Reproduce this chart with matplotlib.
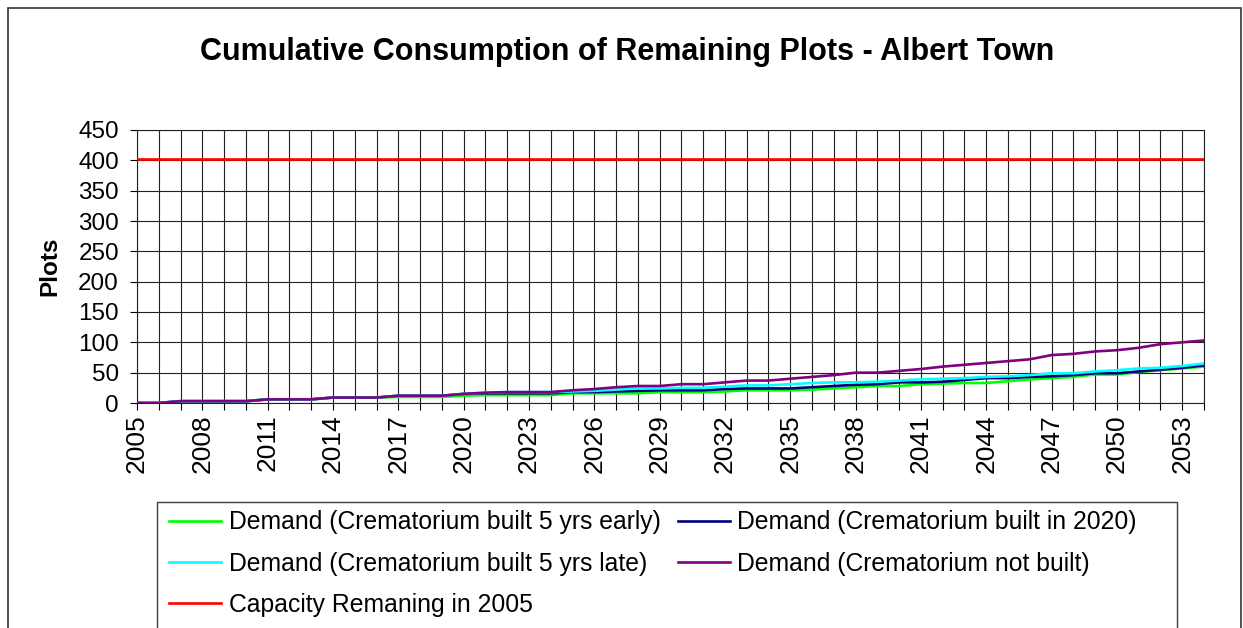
import matplotlib
matplotlib.use("Agg")
import matplotlib.pyplot as plt
from matplotlib.patches import Rectangle

# cumulative plots used per year
years = list(range(2005, 2055))

built_early = [0, 0, 3, 3, 3, 3, 6, 6, 6, 9,
               9, 9, 10, 10, 10, 12, 13, 13, 13, 13,
               16, 16, 16, 16, 18, 18, 18, 19, 21, 21,
               21, 22, 24, 26, 28, 28, 31, 32, 33, 33,
               36, 39, 41, 43, 47, 47, 51, 54, 57, 60]

built_2020 = [0, 0, 3, 3, 3, 3, 6, 6, 6, 9,
              9, 9, 12, 12, 12, 15, 16, 16, 16, 16,
              18, 18, 19, 20, 21, 21, 21, 23, 24, 24,
              24, 26, 28, 30, 31, 34, 34, 35, 38, 41,
              41, 43, 44, 46, 49, 49, 52, 55, 58, 62]

built_late = [0, 0, 3, 3, 3, 3, 6, 6, 6, 9,
              9, 9, 12, 12, 12, 15, 17, 18, 18, 18,
              19, 20, 22, 24, 24, 25, 25, 27, 29, 29,
              31, 33, 34, 34, 35, 37, 39, 40, 41, 43,
              44, 46, 49, 49, 52, 54, 57, 58, 61, 65]

not_built = [0, 0, 3, 3, 3, 3, 6, 6, 6, 9,
             9, 9, 12, 12, 12, 15, 17, 18, 18, 18,
             21, 23, 26, 28, 28, 31, 31, 34, 37, 37,
             40, 43, 46, 50, 50, 53, 56, 60, 63, 66,
             69, 72, 79, 81, 85, 87, 91, 97, 100, 103]

capacity_2005 = 403

labels = ["Demand (Crematorium built 5 yrs early)",
          "Demand (Crematorium built in 2020)",
          "Demand (Crematorium built 5 yrs late)",
          "Demand (Crematorium not built)",
          "Capacity Remaning in 2005"]
colors = ["#00FF00", "#000080", "#00FFFF", "#800080", "#FF0000"]

plt.rcParams['font.family'] = ['Liberation Sans', 'DejaVu Sans']

W, H = 1243, 628


def fx(px):
    return px / W


def fy(py):
    return 1 - py / H


fig = plt.figure(figsize=(W / 100, H / 100), dpi=100)
ax = fig.add_axes([fx(137), fy(403), fx(1204) - fx(137), fy(130) - fy(403)])

series = [built_early, built_2020, built_late, not_built,
          [capacity_2005] * len(years)]
handles = []
for vals, col, lab in zip(series, colors, labels):
    h, = ax.plot(years, vals, color=col, lw=1.9, label=lab, zorder=3)
    handles.append(h)

ax.set_xlim(years[0], years[-1])
ax.set_ylim(0, 450)
ax.set_yticks(range(0, 451, 50))
ax.set_xticks(years)
ax.set_xticklabels([str(y) if (y - years[0]) % 3 == 0 else "" for y in years],
                   rotation=90)
ax.grid(True, color="#222222", lw=0.8, zorder=1)
for sp in ax.spines.values():
    sp.set_color("#222222")
    sp.set_linewidth(0.8)
ax.tick_params(axis="x", direction="out", length=5, width=0.8, labelsize=19, pad=3)
ax.tick_params(axis="y", direction="out", length=5, width=0.8, labelsize=17.5, pad=8)

# title and axis label placed in figure pixels
fig.text(fx(627), fy(60), "Cumulative Consumption of Remaining Plots - Albert Town",
         ha="center", va="baseline", fontsize=22, fontweight="bold")
fig.text(fx(50), fy(266), "Plots", rotation=90, ha="center", va="center",
         fontsize=17.5, fontweight="bold")

# legend: excel fills row-wise, matplotlib column-wise
order = [0, 2, 4, 1, 3]
leg = fig.legend([handles[i] for i in order], [labels[i] for i in order],
                 loc="upper left", bbox_to_anchor=(fx(157), fy(498)), ncol=2,
                 frameon=False, fontsize=17.8, handlelength=2.1,
                 handletextpad=0.3, columnspacing=0.7, labelspacing=0.7,
                 borderpad=0.5, borderaxespad=0)

# legend box drawn separately so it can be as wide as excel's
fig.patches.append(Rectangle((fx(157), fy(700)), fx(1177) - fx(157), fy(502) - fy(700),
                             transform=fig.transFigure, fill=False,
                             ec="#404040", lw=1.0))

# outer chart border
fig.patches.append(Rectangle((fx(8), fy(700)), fx(1241) - fx(8), fy(8) - fy(700),
                             transform=fig.transFigure, fill=False,
                             ec="#333333", lw=1.2))

fig.savefig("out.png", dpi=100)
